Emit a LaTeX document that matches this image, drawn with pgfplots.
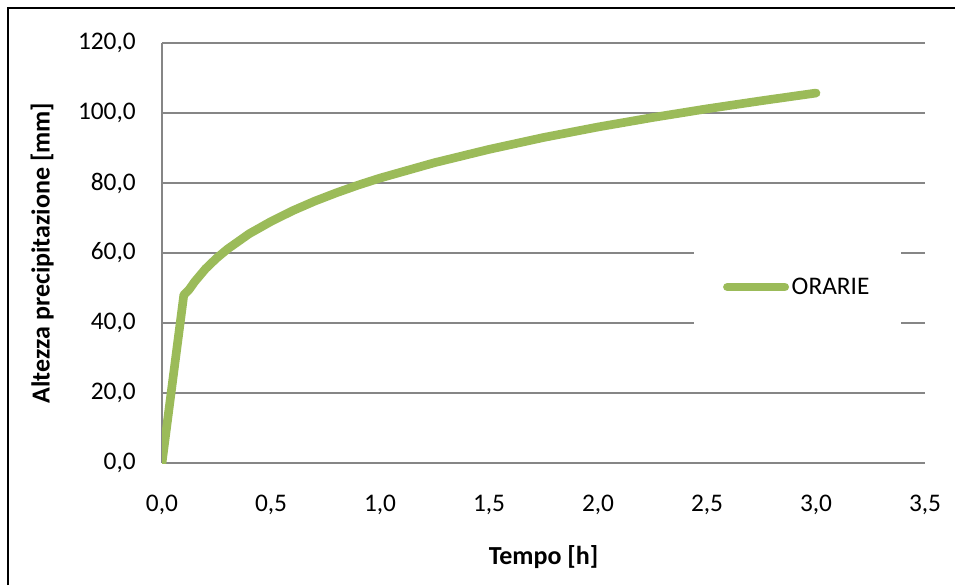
\documentclass[border=0pt]{standalone}
\usepackage{fontspec}
\setmainfont{Carlito}
\usepackage{pgfplots}
\pgfplotsset{compat=1.18}
\definecolor{curvegreen}{RGB}{155,187,89}
\definecolor{gridgray}{RGB}{134,134,134}

\begin{document}
\begin{tikzpicture}
\useasboundingbox (0,0) rectangle (716.25pt,438.75pt);
\draw[line width=1.5pt] (6pt,0) -- (6pt,432.75pt) -- (716.25pt,432.75pt);
\begin{axis}[
  at={(121.5pt,91.5pt)}, anchor=south west,
  scale only axis, width=572.25pt, height=315pt,
  xmin=0, xmax=3.5, ymin=0, ymax=120,
  xtick={0,0.5,...,3.5}, ytick={0,20,...,120},
  axis x line*=bottom, axis y line*=left,
  axis line style={-, gridgray, line width=1.2pt},
  ymajorgrids, grid style={gridgray, line width=0.9pt},
  major tick length=0pt,
  font=\fontsize{19}{23}\selectfont,
  /pgf/number format/.cd, fixed, fixed zerofill, precision=1, use comma, 1000 sep={}, assume math mode=true,
  /pgfplots/.cd,
  xticklabel style={anchor=center, inner sep=0pt, yshift=-31.5pt},
  yticklabel style={anchor=east, inner sep=0pt, xshift=-19.5pt},
  xlabel={\bfseries Tempo [h]},
  ylabel={\bfseries Altezza precipitazione [mm]},
  label style={font=\fontsize{19.5}{23}\selectfont},
  xlabel style={at={(axis description cs:0.5,-0.224)}, anchor=center},
  ylabel style={at={(axis description cs:-0.157,0.5)}, anchor=center},
  legend style={at={(0.833,0.419)}, anchor=center, draw=none, fill=white,
    inner xsep=22pt, inner ysep=26pt, font=\fontsize{19}{23}\selectfont},
  legend image code/.code={\draw[#1] (0pt,0pt) -- (43pt,0pt);},
]
\addplot[curvegreen, line width=6.5pt, line cap=round, line join=round] coordinates {
  (0,0) (0.1,48.0) (0.125,49.6) (0.15,51.8) (0.2,55.5) (0.25,58.5) (0.3,61.1)
  (0.4,65.5) (0.5,69.0) (0.6,72.1) (0.7,74.8) (0.8,77.2) (0.9,79.4) (1.0,81.4)
  (1.25,85.8) (1.5,89.6) (1.75,93.0) (2.0,96.0) (2.25,98.7) (2.5,101.2)
  (2.75,103.5) (3.0,105.7)
};
\addlegendentry{ORARIE}
\end{axis}
\end{tikzpicture}
\end{document}
